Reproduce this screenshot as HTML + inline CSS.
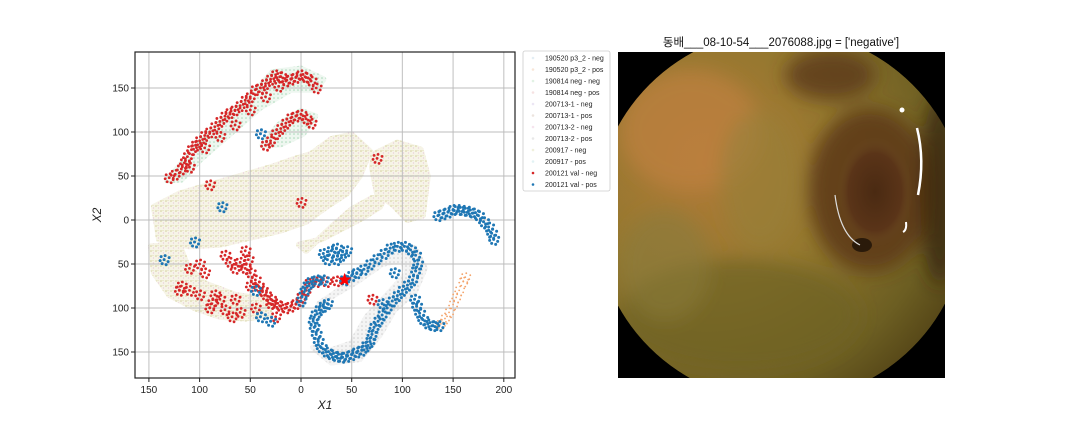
<!DOCTYPE html>
<html><head><meta charset="utf-8">
<style>
html,body{margin:0;padding:0;background:#fff;width:1080px;height:432px;overflow:hidden}
svg text{font-family:"Liberation Sans","Noto Sans CJK KR",sans-serif}
</style></head>
<body>
<svg id="fig" width="1080" height="432" viewBox="0 0 1080 432">
<defs>
<pattern id="olivePat" width="5" height="5" patternUnits="userSpaceOnUse"><rect width="5" height="5" fill="#f6f4e6"/><circle cx="1" cy="1" r="0.8" fill="#d4d09a"/><circle cx="3.5" cy="3" r="0.6" fill="#e8c6dc"/><circle cx="3" cy="0.5" r="0.5" fill="#dcd8a8"/></pattern>
<pattern id="greenPat" width="4" height="4" patternUnits="userSpaceOnUse"><rect width="4" height="4" fill="#eef7f0"/><circle cx="2" cy="2" r="0.8" fill="#a8d8b8"/></pattern>
<pattern id="grayPat" width="4" height="4" patternUnits="userSpaceOnUse"><rect width="4" height="4" fill="#f4f4f4"/><circle cx="2" cy="2" r="0.8" fill="#cfcfcf"/></pattern>
<clipPath id="plotClip"><rect x="135" y="52" width="380" height="326"/></clipPath>
<clipPath id="imgClip"><rect x="618" y="52" width="327" height="326"/></clipPath>
<clipPath id="circClip"><circle cx="781" cy="216" r="186"/></clipPath>
<radialGradient id="photoBase" cx="0.3" cy="0.35" r="0.85">
<stop offset="0" stop-color="#b27a38"/><stop offset="0.4" stop-color="#94782f"/><stop offset="0.75" stop-color="#6c5e22"/><stop offset="1" stop-color="#463610"/></radialGradient>
<radialGradient id="lumen" cx="0.5" cy="0.5" r="0.5">
<stop offset="0" stop-color="#4a2a12"/><stop offset="0.7" stop-color="#5a3418"/><stop offset="1" stop-color="#6b4a22" stop-opacity="0"/></radialGradient>
<filter id="blur8" x="-20%" y="-20%" width="140%" height="140%"><feGaussianBlur stdDeviation="9"/></filter>
</defs>
<g id="plot">
<rect x="135" y="52" width="380" height="326" fill="#fff"/>
<g id="clouds" clip-path="url(#plotClip)"></g>
<g id="grid"></g>
<g id="marks" clip-path="url(#plotClip)"></g>
<rect x="135" y="52" width="380" height="326" fill="none" stroke="#222" stroke-width="1.2"/>
<g id="ticks"></g>
<text x="325" y="409" font-size="12" font-style="italic" text-anchor="middle" fill="#222">X1</text>
<text x="101" y="215" font-size="12" font-style="italic" text-anchor="middle" fill="#222" transform="rotate(-90 101 215)">X2</text>
</g>
<g id="legend">
<rect x="523" y="51" width="87" height="140" fill="#fff" stroke="#ccc" stroke-width="0.8" rx="2"/>
</g>
<g id="photo">
<text x="781" y="46" font-size="11.5" text-anchor="middle" fill="#111">동배___08-10-54___2076088.jpg = ['negative']</text>
<rect x="618" y="52" width="327" height="326" fill="#000"/>
<g clip-path="url(#imgClip)">
<g clip-path="url(#circClip)">
<circle cx="781" cy="216" r="186" fill="url(#photoBase)"/>
<g filter="url(#blur8)">
<ellipse cx="690" cy="130" rx="70" ry="60" fill="#bd8040" opacity="0.7"/>
<ellipse cx="740" cy="315" rx="120" ry="55" fill="#6e6224" opacity="0.7"/>
<ellipse cx="665" cy="265" rx="45" ry="55" fill="#8a7c3a" opacity="0.6"/>
<ellipse cx="760" cy="180" rx="40" ry="70" fill="#968038" opacity="0.6"/>
<ellipse cx="870" cy="190" rx="62" ry="82" fill="#5e3a1a" opacity="0.9"/>
<ellipse cx="830" cy="75" rx="45" ry="25" fill="#5a3a1a" opacity="0.8"/>
<ellipse cx="940" cy="190" rx="20" ry="95" fill="#3a240e" opacity="0.8"/>
</g>
</g>
<ellipse cx="875" cy="192" rx="38" ry="55" fill="url(#lumen)"/>
<ellipse cx="862" cy="245" rx="10" ry="7" fill="#2a1a0a"/>
<path d="M917,128 Q925,160 918,195" stroke="#fff" stroke-width="2.5" fill="none"/>
<path d="M835,195 Q840,235 860,245" stroke="#ddd" stroke-width="1.2" fill="none"/>
<circle cx="902" cy="110" r="2.5" fill="#fff"/>
<path d="M906,222 Q907,230 903,232" stroke="#fff" stroke-width="2" fill="none"/>
</g>
</g>
<script>
// axis ticks
const xTicks=[-150,-100,-50,0,50,100,150,200];
const xTickLabels=["150","100","50","0","50","100","150","200"];
const yTicks=[150,100,50,0,-50,-100,-150];
const yTickLabels=["150","100","50","0","50","100","150"];
// legend
const legendLabels=["190520 p3_2 - neg","190520 p3_2 - pos","190814 neg - neg","190814 neg - pos","200713-1 - neg","200713-1 - pos","200713-2 - neg","200713-2 - pos","200917 - neg","200917 - pos","200121 val - neg","200121 val - pos"];
const legendColors=["#e4eef4","#f8e6d8","#e2f2e4","#f6e2e2","#ece6f4","#ece4de","#f6e4ee","#e8e8e8","#f0f0dc","#e2f2f4","#d62728","#1f77b4"];
// background clouds (faint training-set points), polygons in data units
const cloudOlive1=[[-145,15],[-120,30],[-90,40],[-60,50],[-30,60],[-10,68],[10,75],[30,92],[50,97],[68,78],[58,50],[45,30],[25,15],[5,-2],[-20,-12],[-50,-20],[-80,-28],[-110,-30],[-140,-22]];
const cloudOlive2=[[72,75],[95,88],[118,80],[125,50],[120,5],[105,0],[90,18],[75,30],[70,60]];
const cloudOlive3=[[-148,-30],[-145,-60],[-130,-85],[-105,-100],[-80,-110],[-55,-112],[-30,-108],[-35,-90],[-65,-85],[-95,-72],[-112,-52],[-120,-28]];
const cloudOlive4=[[-2,-28],[20,-22],[40,-10],[60,2],[78,15],[82,25],[70,25],[50,12],[30,-8],[5,-35]];
const cloudGreen1=[[-132,45],[-112,72],[-82,108],[-52,138],[-28,168],[0,172],[22,160],[15,148],[-10,148],[-40,128],[-70,98],[-100,68],[-118,46]];
const cloudGreen2=[[-38,85],[-22,108],[0,124],[14,118],[2,98],[-20,86]];
const cloudGray1=[[18,-95],[40,-78],[70,-52],[90,-32],[112,-32],[122,-55],[112,-82],[92,-102],[78,-130],[58,-158],[30,-162],[12,-145],[25,-150],[50,-140],[65,-110],[85,-85],[105,-60],[100,-45],[80,-50],[55,-70]];
// 200121 val - pos (blue)
const bluePosX=[135,140,145,150,155,160,165,170,175,180,185,188,190,30,35,40,45,35,26,22,43,50,55,62,68,75,82,88,95,102,108,113,115,113,110,105,100,95,90,85,80,76,72,70,68,64,60,55,50,45,40,35,30,25,20,17,15,13,12,14,18,22,26,112,114,117,120,125,130,136,0,3,6,10,16,22,-30,-40,-105,-135,-78,-40,-45,80,92];
const bluePosY=[5,7,9,12,12,11,10,8,5,-2,-8,-15,-22,-35,-32,-40,-35,-45,-45,-38,-68,-63,-60,-56,-50,-44,-38,-32,-30,-30,-34,-40,-50,-58,-68,-74,-80,-86,-92,-100,-108,-115,-122,-130,-138,-143,-148,-150,-153,-155,-156,-155,-153,-150,-145,-138,-130,-122,-115,-108,-102,-98,-95,-90,-98,-106,-113,-118,-120,-120,-92,-82,-75,-70,-68,-68,-115,-110,-25,-45,15,98,-80,-95,-60];
// 200121 val - neg (red)
const redNegX=[-130,-124,-118,-115,-112,-108,-104,-100,-95,-90,-85,-80,-75,-70,-65,-60,-55,-50,-45,-40,-35,-30,-25,-20,-15,-10,-5,0,5,10,15,-110,-95,-80,-65,-50,-35,-22,-35,-30,-25,-20,-15,-10,-5,0,5,10,-55,-52,-60,-65,-50,-45,-42,-38,-35,-30,-25,-20,-15,-10,-5,0,5,8,15,25,35,-110,-100,-88,-75,-60,-45,-30,-80,-90,-118,-95,-70,-55,-100,-65,-85,-68,-50,-25,75,70,0,-90,-110,-120,-75];
const redNegY=[48,52,58,65,72,80,85,90,96,100,106,112,118,122,125,130,136,140,148,150,155,160,165,163,158,160,162,165,162,158,150,60,82,95,108,125,140,152,85,90,98,104,110,116,118,120,115,110,-35,-45,-48,-55,-60,-68,-75,-80,-85,-90,-95,-98,-100,-98,-95,-88,-80,-72,-70,-70,-69,-80,-85,-95,-102,-105,-100,-95,-90,-100,-75,-60,-48,-55,-50,-90,-85,-110,-75,-110,70,-90,20,40,-55,-80,-40];
// orange trail (training sample)
const orangeX=[138,142,146,150,153,156,160,162];
const orangeY=[-118,-112,-105,-96,-88,-80,-70,-65];
// highlighted query sample
const starX=[43], starY=[-68];

const NS="http://www.w3.org/2000/svg";
const sx=v=>301+1.014*v;
const sy=v=>220-0.88*v;
function mk(tag,attrs,parent){const e=document.createElementNS(NS,tag);for(const k in attrs)e.setAttribute(k,attrs[k]);parent.appendChild(e);return e;}
const grid=document.getElementById('grid'),ticks=document.getElementById('ticks');
xTicks.forEach((t,i)=>{
  const l=mk('line',{x1:sx(t),x2:sx(t),y1:52,y2:378,stroke:'#bdbdbd','stroke-width':1.2,opacity:0.8},grid);
  
  
  const tk=mk('line',{x1:sx(t),x2:sx(t),y1:378,y2:382,stroke:'#222'},ticks);
  
  
  const tx=mk('text',{x:sx(t),y:393,'font-size':10,'text-anchor':'middle',fill:'#222'},ticks);
  tx.textContent=xTickLabels[i];
  
  
});
yTicks.forEach((t,i)=>{
  const l=mk('line',{x1:135,x2:515,y1:sy(t),y2:sy(t),stroke:'#bdbdbd','stroke-width':1.2,opacity:0.8},grid);
  
  
  const tk=mk('line',{x1:131,x2:135,y1:sy(t),y2:sy(t),stroke:'#222'},ticks);
  
  
  const tx=mk('text',{x:129,y:sy(t)+3.5,'font-size':10,'text-anchor':'end',fill:'#222'},ticks);
  tx.textContent=yTickLabels[i];
  
  
});
const clouds=document.getElementById('clouds');
[[cloudOlive1,'olivePat'],[cloudOlive2,'olivePat'],[cloudOlive3,'olivePat'],[cloudOlive4,'olivePat'],[cloudGreen1,'greenPat'],[cloudGreen2,'greenPat'],[cloudGray1,'grayPat']].forEach(([poly,pat])=>{
  const p=mk('polygon',{points:poly.map(q=>sx(q[0])+','+sy(q[1])).join(' '),fill:'url(#'+pat+')',stroke:'url(#'+pat+')','stroke-width':6,'stroke-linejoin':'round'},clouds);
  
  
});
const marks=document.getElementById('marks');
const offs=[[0,0],[4,2],[-4,1],[1,-4],[-3,-3],[2,5],[-2,4],[5,-2]];
function drawSeries(xs,ys,color,name,r){
  xs.forEach((x,i)=>{
    offs.forEach(o=>{
      const c=mk('circle',{cx:sx(x)+o[0],cy:sy(ys[i])+o[1],r:r,fill:color},marks);
      
      
    });
  });
}
drawSeries(orangeX,orangeY,'#f4a36a','point-orange',0.9);
drawSeries(redNegX,redNegY,'#d62728','point-val-neg',1.4);
drawSeries(bluePosX,bluePosY,'#1f77b4','point-val-pos',1.5);
starX.forEach((x,i)=>{
  const cx=sx(x),cy=sy(starY[i]),R=7,r=3;let pts=[];
  for(let k=0;k<10;k++){const a=-Math.PI/2+k*Math.PI/5;const rr=k%2?r:R;pts.push((cx+rr*Math.cos(a))+','+(cy+rr*Math.sin(a)));}
  const s=mk('polygon',{points:pts.join(' '),fill:'#ff0000'},marks);
  
  
});
const legend=document.getElementById('legend');
legendLabels.forEach((lab,i)=>{
  const y=58+i*11.5;
  const d=mk('circle',{cx:533,cy:y,r:1.3,fill:legendColors[i]},legend);
  
  
  const t=mk('text',{x:545,y:y+2.5,'font-size':7,fill:'#222'},legend);
  t.textContent=lab;
  
  
});
</script>
</svg>
</body></html>
